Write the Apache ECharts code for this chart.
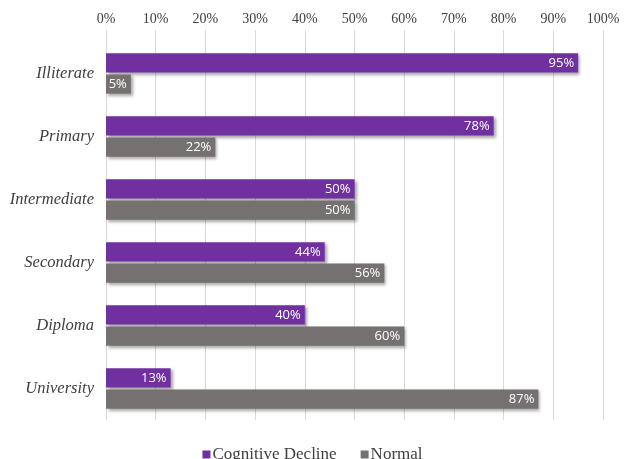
<!DOCTYPE html>
<html><head><meta charset="utf-8">
<script src="https://cdn.jsdelivr.net/npm/echarts@6/dist/echarts.min.js"></script>
<style>html,body{margin:0;padding:0;background:#fff}#c{width:625px;height:459px}</style>
</head><body><div id="c"></div>
<script>
const categories = ['Illiterate','Primary','Intermediate','Secondary','Diploma','University'];
const cognitiveDecline = [95,78,50,44,40,13];
const normal = [5,22,50,56,60,87];
const seriesNames = ['Cognitive Decline','Normal'];
const colors = ['#7030A0','#767171'];

const chart = echarts.init(document.getElementById('c'), null, {renderer:'canvas'});
const labelCfg = {show:true, position:'insideRight', distance:4, color:'#fff', fontFamily:'Open Sans', fontSize:13, formatter:p=>p.value+'%'};
const shadow = {shadowColor:'rgba(0,0,0,0.35)', shadowBlur:3, shadowOffsetX:2, shadowOffsetY:2};
chart.setOption({
  animation:false,
  grid:{left:106, right:22, top:42, bottom:39, containLabel:false},
  legend:{top:441, left:'center', itemWidth:8, itemHeight:8, itemGap:24, icon:'rect',
    textStyle:{fontFamily:'Liberation Serif', fontSize:17, color:'#404040', padding:[0,0,0,-3]}},
  xAxis:{type:'value', position:'top', min:0, max:100, interval:10,
    axisLine:{show:false},
    axisTick:{show:true, length:12, lineStyle:{color:'#d9d9d9'}},
    splitLine:{show:true, lineStyle:{color:'#d9d9d9'}},
    axisLabel:{formatter:'{value}%', margin:16, fontFamily:'Liberation Serif', fontSize:14, color:'#404040'}},
  yAxis:{type:'category', data:categories, inverse:true,
    axisLine:{show:false}, axisTick:{show:false},
    axisLabel:{margin:12, fontFamily:'Liberation Serif', fontStyle:'italic', fontSize:16.5, color:'#404040'}},
  series:[
    {name:seriesNames[0], type:'bar', data:cognitiveDecline, barGap:'10%', barCategoryGap:'36%',
     itemStyle:Object.assign({color:colors[0]}, shadow), label:labelCfg},
    {name:seriesNames[1], type:'bar', data:normal,
     itemStyle:Object.assign({color:colors[1]}, shadow), label:labelCfg}
  ]
});
</script></body></html>
